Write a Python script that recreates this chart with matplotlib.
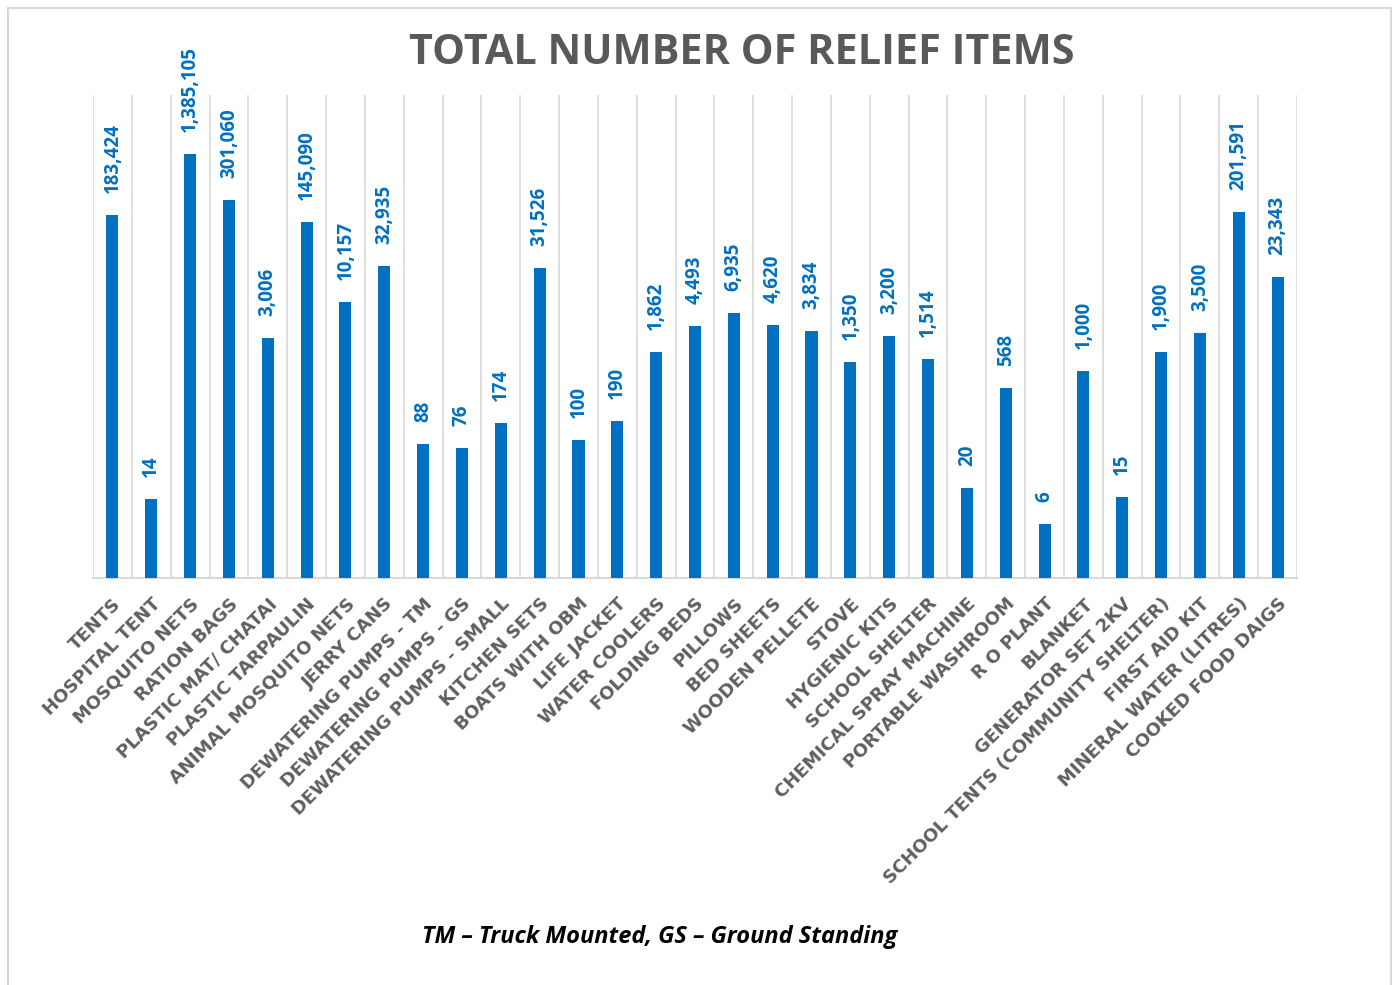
import matplotlib
matplotlib.use("Agg")
import matplotlib.pyplot as plt
from matplotlib.patches import Rectangle
import numpy as np

categories = [
    "TENTS", "HOSPITAL TENT", "MOSQUITO NETS", "RATION BAGS", "PLASTIC MAT/ CHATAI",
    "PLASTIC TARPAULIN", "ANIMAL MOSQUITO NETS", "JERRY CANS", "DEWATERING PUMPS - TM",
    "DEWATERING PUMPS - GS", "DEWATERING PUMPS - SMALL", "KITCHEN SETS", "BOATS WITH OBM",
    "LIFE JACKET", "WATER COOLERS", "FOLDING BEDS", "PILLOWS", "BED SHEETS", "WOODEN PELLETE",
    "STOVE", "HYGIENIC KITS", "SCHOOL SHELTER", "CHEMICAL SPRAY MACHINE", "PORTABLE WASHROOM",
    "R O PLANT", "BLANKET", "GENERATOR SET 2KV", "SCHOOL TENTS (COMMUNITY SHELTER)",
    "FIRST AID KIT", "MINERAL WATER (LITRES)", "COOKED FOOD DAIGS",
]
values = [
    183424, 14, 1385105, 301060, 3006, 145090, 10157, 32935, 88, 76, 174, 31526, 100,
    190, 1862, 4493, 6935, 4620, 3834, 1350, 3200, 1514, 20, 568, 6, 1000, 15, 1900,
    3500, 201591, 23343,
]
title = "TOTAL NUMBER OF RELIEF ITEMS"
footnote = "TM \u2013 Truck Mounted, GS \u2013 Ground Standing"

W, H = 1399, 985
fig = plt.figure(figsize=(W / 100, H / 100), dpi=100)
fig.patch.set_facecolor("white")
fig.patches.append(Rectangle((8 / W, -0.01), (1391 - 8) / W, 1 - 8 / H + 0.01,
                             transform=fig.transFigure, fill=False,
                             edgecolor="#D9D9D9", linewidth=1.5))

ax = fig.add_axes([93 / W, 1 - 578 / H, (1297 - 93) / W, (578 - 95) / H])
x = np.arange(len(categories))
ax.bar(x, values, width=0.31, color="#0070C0", zorder=3)
ax.set_yscale("log")
ax.set_ylim(1, 1e7)
ax.set_xlim(-0.5, len(categories) - 0.5)

for b in np.arange(-0.5, len(categories), 1.0):
    ax.axvline(b, color="#D9D9D9", linewidth=1.2, zorder=1)

for s in ["top", "left", "right"]:
    ax.spines[s].set_visible(False)
ax.spines["bottom"].set_color("#D9D9D9")
ax.spines["bottom"].set_linewidth(1.5)
ax.set_yticks([])
ax.yaxis.set_minor_locator(matplotlib.ticker.NullLocator())
ax.set_xticks(x)
ax.set_xticklabels(categories, rotation=45, ha="right", rotation_mode="anchor",
                   fontsize=13, fontweight="bold", color="#5f5f5f", family="DejaVu Sans")
ax.tick_params(axis="x", length=0, pad=12)

for xi, v in zip(x, values):
    ax.annotate(f"{v:,}", (xi, v), xytext=(0, 22), textcoords="offset pixels",
                rotation=90, ha="center", va="bottom", fontsize=13.5,
                fontweight="bold", color="#0070C0", family="Open Sans", zorder=4)

fig.text(742 / W, 1 - 54 / H, title, ha="center", va="center", fontsize=29.8,
         fontweight="bold", color="#595959", family="Open Sans")
fig.text(660 / W, 1 - 937 / H, footnote, ha="center", va="center", fontsize=17,
         fontweight="bold", style="italic", color="black", family="Open Sans")

fig.savefig("out.png", dpi=100)
